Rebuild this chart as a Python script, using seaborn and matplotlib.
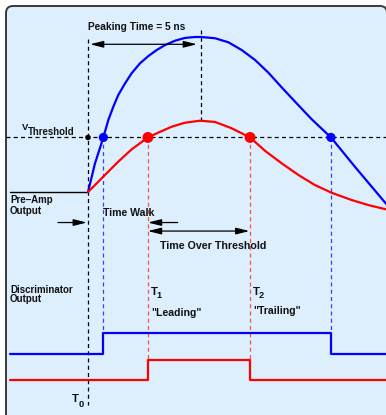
import matplotlib
matplotlib.use("Agg")
import matplotlib.pyplot as plt
import matplotlib.transforms as mtransforms
from matplotlib.patches import FancyBboxPatch
import seaborn as sns

# Time in ns (T0 = 0), amplitude normalised to the large pulse peak
large_t = [0.0, 0.31, 0.68, 0.90, 1.12, 1.34, 1.64, 1.93, 2.30, 2.67, 3.04, 3.41,
           3.85, 4.29, 4.73, 5.0, 5.62, 6.21, 6.80, 7.39, 7.98, 8.57, 9.16, 9.90,
           10.75, 11.81, 13.19]
large_v = [0.0, 0.185, 0.352, 0.465, 0.55, 0.626, 0.701, 0.766, 0.830, 0.877, 0.916, 0.948,
           0.976, 0.994, 1.0, 1.0, 0.992, 0.966, 0.916, 0.852, 0.770, 0.675, 0.583, 0.469,
           0.352, 0.163, -0.076]
small_t = [0.0, 0.31, 0.75, 1.34, 1.93, 2.65, 3.11, 3.70, 4.29, 4.96, 5.62, 6.36,
           7.17, 7.83, 8.57, 9.31, 10.04, 10.78, 11.67, 12.40, 13.19]
small_v = [0.0, 0.045, 0.11, 0.196, 0.275, 0.352, 0.383, 0.421, 0.447, 0.46, 0.452, 0.411,
           0.352, 0.266, 0.185, 0.11, 0.045, -0.005, -0.052, -0.084, -0.112]

threshold = 0.352
peaking_time = 5.0
large_cross = [0.68, 10.75]
small_cross = [2.65, 7.17]

# Discriminator logic states (steps at the threshold crossings)
t_start, t_end = -3.45, 13.19
large_disc_t = [t_start, large_cross[0], large_cross[1], t_end]
large_disc_state = [0, 1, 0, 0]
small_disc_t = [t_start, small_cross[0], small_cross[1], t_end]
small_disc_state = [0, 1, 0, 0]

BLUE = "#0000ff"
RED = "#ff0000"
BLUE_DASH = "#3c3cff"
RED_DASH = "#ff4c4c"
BG = "#ddeefd"

sns.set_theme(style="white")
plt.rcParams["font.family"] = ["Liberation Sans", "DejaVu Sans"]

fig = plt.figure(figsize=(3.86, 4.15), dpi=100)
ax = fig.add_axes([0, 0, 1, 1])
ax.set_xlim(-3.894, 13.186)
ax.set_ylim(-1.4387, 1.2387)
ax.axis("off")

# rounded panel behind the diagram
frame = FancyBboxPatch((6, -20), 381, 429, boxstyle="round,pad=0,rounding_size=7",
                       transform=mtransforms.IdentityTransform(),
                       facecolor=BG, edgecolor="#3a3a3a", linewidth=1.4, zorder=0)
ax.add_patch(frame)

dash_k = dict(color="black", lw=0.9, dashes=(3.2, 2.6))

# threshold level and reference verticals
ax.plot([-3.63, 13.19], [threshold, threshold], zorder=2, **dash_k)
ax.plot([0, 0], [0.987, -1.374], zorder=2, **dash_k)
ax.plot([peaking_time, peaking_time], [1.045, max(small_v)], zorder=2, **dash_k)

# discriminator levels
large_base, small_base, swing = -1.045, -1.216, 0.134
large_hi = large_base + swing
small_hi = small_base + swing

for t in large_cross:
    ax.plot([t, t], [threshold, large_hi], color=BLUE_DASH, lw=0.9, dashes=(3.2, 2.6), zorder=2)
for t in small_cross:
    ax.plot([t, t], [threshold, small_hi], color=RED_DASH, lw=0.9, dashes=(3.2, 2.6), zorder=2)

# pre-amp baseline
ax.plot([t_start, 0], [0, 0], color="black", lw=1.0, zorder=3)

# pre-amp pulses
sns.lineplot(x=large_t, y=large_v, sort=False, estimator=None, color=BLUE, lw=1.6, ax=ax, zorder=4)
sns.lineplot(x=small_t, y=small_v, sort=False, estimator=None, color=RED, lw=1.6, ax=ax, zorder=4)

# discriminator outputs
sns.lineplot(x=large_disc_t, y=[large_base + swing * s for s in large_disc_state],
             sort=False, estimator=None, drawstyle="steps-post", color=BLUE, lw=1.6, ax=ax, zorder=4)
sns.lineplot(x=small_disc_t, y=[small_base + swing * s for s in small_disc_state],
             sort=False, estimator=None, drawstyle="steps-post", color=RED, lw=1.6, ax=ax, zorder=4)

# threshold crossing markers
sns.scatterplot(x=large_cross, y=[threshold] * 2, s=44, color=BLUE, edgecolor="none", ax=ax, zorder=5)
sns.scatterplot(x=small_cross, y=[threshold] * 2, s=62, color=RED, edgecolor="none", ax=ax, zorder=5)
sns.scatterplot(x=[0], y=[threshold], s=16, color="black", edgecolor="none", ax=ax, zorder=5)

# arrows
def arrow(x0, x1, y, style):
    ax.annotate("", xy=(x1, y), xytext=(x0, y),
                arrowprops=dict(arrowstyle=style + ",head_length=0.8,head_width=0.2",
                                color="black", lw=0.9, shrinkA=0, shrinkB=0,
                                mutation_scale=10), zorder=6)

arrow(0.09, 4.82, 0.953, "<|-|>")
arrow(-1.33, -0.05, -0.197, "-|>")
arrow(3.97, small_cross[0], -0.197, "-|>")
arrow(small_cross[0], small_cross[1] - 0.03, -0.252, "<|-|>")

# labels
txt = dict(fontweight="bold", color="#111111", va="baseline", ha="left", zorder=7)
ax.text(0.0, 1.048, "Peaking Time = 5 ns", fontsize=7.3, **txt)
ax.text(-2.907, 0.40, "V", fontsize=6.8, **txt)
ax.text(-2.642, 0.368, "Threshold", fontsize=6.9, **txt)
ax.text(-3.451, -0.074, "Pre–Amp", fontsize=7.0, **txt)
ax.text(-3.451, -0.142, "Output", fontsize=7.0, **txt)
ax.text(0.677, -0.155, "Time Walk", fontsize=7.6, **txt)
ax.text(3.186, -0.368, "Time Over Threshold", fontsize=7.7, **txt)
ax.text(-3.451, -0.652, "Discriminator", fontsize=7.0, **txt)
ax.text(-3.451, -0.712, "Output", fontsize=7.0, **txt)
ax.text(2.788, -0.665, "T", fontsize=8.2, **txt)
ax.text(3.04, -0.684, "1", fontsize=6.6, **txt)
ax.text(2.82, -0.803, "\"Leading\"", fontsize=7.6, **txt)
ax.text(7.30, -0.665, "T", fontsize=8.2, **txt)
ax.text(7.55, -0.684, "2", fontsize=6.6, **txt)
ax.text(7.31, -0.784, "\"Trailing\"", fontsize=7.6, **txt)
ax.text(-0.695, -1.353, "T", fontsize=8.2, **txt)
ax.text(-0.429, -1.389, "0", fontsize=6.8, **txt)

fig.savefig("out.png", dpi=100)
